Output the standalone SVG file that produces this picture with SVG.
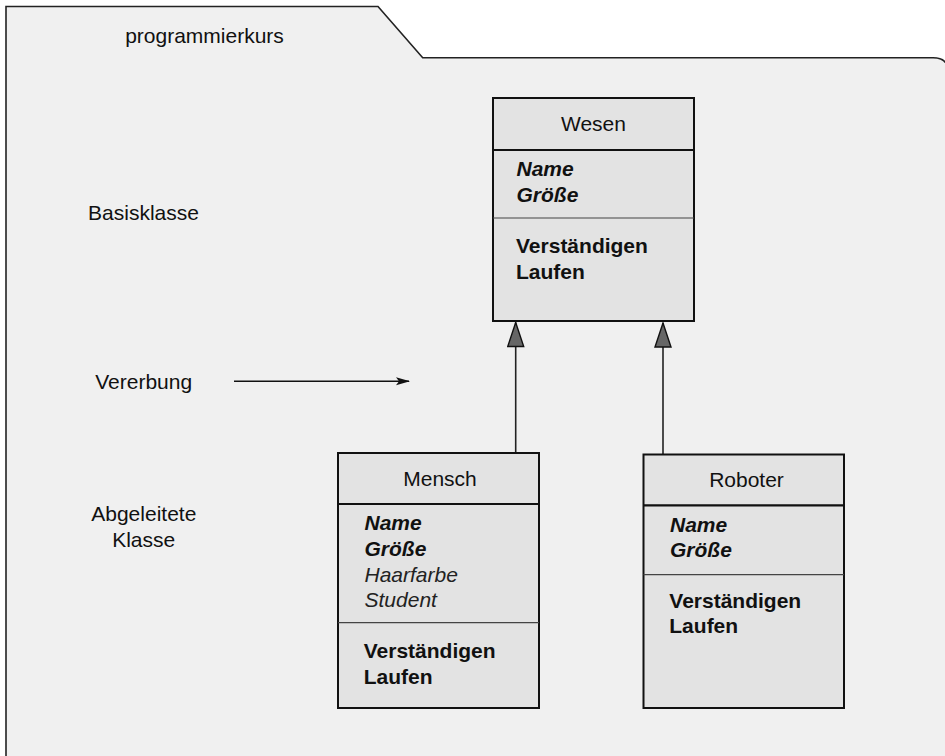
<svg xmlns="http://www.w3.org/2000/svg" width="945" height="756" viewBox="0 0 945 756">
  <style>
    text { font-family: "Liberation Sans", Arial, Helvetica, sans-serif; font-size: 21px; fill: #111; }
    .c { text-anchor: middle; }
    .bi { font-weight: bold; font-style: italic; }
    .b { font-weight: bold; }
    .i { font-style: italic; fill: #222; }
    .box { fill: #e3e3e3; stroke: #111; stroke-width: 2; }
    .hdr { stroke: #111; stroke-width: 2.2; }
    .sep { stroke: #444; stroke-width: 1.2; }
    .edge { stroke: #222; stroke-width: 1.6; fill: none; }
  </style>
  <defs>
    <!-- hollow-style generalisation head, drawn along the +x axis -->
    <marker id="inherit" viewBox="0 0 26 18" refX="25" refY="9" markerWidth="26" markerHeight="18" markerUnits="userSpaceOnUse" orient="auto">
      <path d="M25 9 L1 1 L1 17 Z" fill="#666" stroke="#111" stroke-width="1.4"/>
    </marker>
    <marker id="arrow" viewBox="0 0 14 10" refX="13" refY="5" markerWidth="14" markerHeight="10" markerUnits="userSpaceOnUse" orient="auto">
      <path d="M0 1 L14 5 L0 9 L3 5 Z" fill="#111"/>
    </marker>
  </defs>

  <rect width="945" height="756" fill="#ffffff"/>

  <!-- package frame with tab -->
  <g id="package">
    <path d="M6 770 L6 6.5 L378 6.5 L422.7 57.7 L933 57.7 Q945 57.7 947 66 L947 770 Z" fill="#f0f0f0" stroke="#222" stroke-width="1.6"/>
    <text class="c" x="204.5" y="42.5">programmierkurs</text>
  </g>

  <!-- side labels -->
  <g id="labels">
    <text class="c" x="143.5" y="220">Basisklasse</text>
    <text class="c" x="143.7" y="389">Vererbung</text>
    <text class="c" x="143.8" y="520.7">Abgeleitete</text>
    <text class="c" x="143.7" y="546.7">Klasse</text>
  </g>

  <!-- connectors -->
  <g id="connectors">
    <line class="edge" x1="515.7" y1="452" x2="515.7" y2="322.5" marker-end="url(#inherit)"/>
    <line class="edge" x1="663" y1="454" x2="663" y2="323" marker-end="url(#inherit)"/>
    <line x1="234" y1="381.3" x2="409" y2="381.3" stroke="#111" stroke-width="1.6" marker-end="url(#arrow)"/>
  </g>

  <!-- base class -->
  <g id="wesen">
    <rect class="box" x="493" y="98" width="201" height="223"/>
    <line class="hdr" x1="492" y1="150" x2="694" y2="150"/>
    <line class="sep" x1="493" y1="218" x2="694" y2="218"/>
    <text class="c" x="593.5" y="130.5">Wesen</text>
    <text class="bi" x="516.5" y="176">Name</text>
    <text class="bi" x="516.5" y="201.5">Größe</text>
    <text class="b" x="516" y="252.7">Verständigen</text>
    <text class="b" x="516" y="278.7">Laufen</text>
  </g>

  <!-- derived class: Mensch -->
  <g id="mensch">
    <rect class="box" x="338" y="453" width="201" height="255"/>
    <line class="hdr" x1="337" y1="504" x2="539" y2="504"/>
    <line class="sep" x1="338" y1="622.7" x2="539" y2="622.7"/>
    <text class="c" x="440" y="485.7">Mensch</text>
    <text class="bi" x="364.5" y="530">Name</text>
    <text class="bi" x="364.5" y="556">Größe</text>
    <text class="i" x="364.5" y="581.7">Haarfarbe</text>
    <text class="i" x="364.5" y="606.7">Student</text>
    <text class="b" x="363.7" y="658.3">Verständigen</text>
    <text class="b" x="363.7" y="684.3">Laufen</text>
  </g>

  <!-- derived class: Roboter -->
  <g id="roboter">
    <rect class="box" x="643.5" y="454.5" width="200.5" height="253.5"/>
    <line class="hdr" x1="643" y1="505.3" x2="844" y2="505.3"/>
    <line class="sep" x1="643.5" y1="574.7" x2="844" y2="574.7"/>
    <text class="c" x="746.5" y="486.7">Roboter</text>
    <text class="bi" x="670" y="531.7">Name</text>
    <text class="bi" x="670" y="557.3">Größe</text>
    <text class="b" x="669.3" y="608.3">Verständigen</text>
    <text class="b" x="669.3" y="633.3">Laufen</text>
  </g>
</svg>
